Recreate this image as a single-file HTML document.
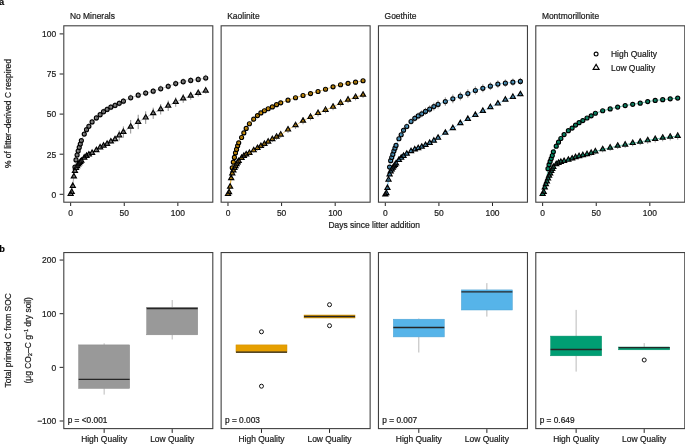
<!DOCTYPE html><html><head><meta charset="utf-8"><style>html,body{margin:0;padding:0;background:#fff;}svg{display:block;will-change:transform;}text{font-family:"Liberation Sans", sans-serif;stroke:#1a1a1a;stroke-width:0.22px;}</style></head><body>
<svg width="685" height="444" viewBox="0 0 685 444">
<rect width="685" height="444" fill="#fff"/>
<text x="-1.0" y="4.6" font-size="9.2" font-weight="bold" fill="#000">a</text>
<text x="-0.7" y="251.6" font-size="9.2" font-weight="bold" fill="#000">b</text>
<text transform="translate(69.9 18.5) scale(0.94 1)" font-size="9" fill="#1a1a1a">No Minerals</text>
<clipPath id="c0"><rect x="63.8" y="25.8" width="149" height="176.4"/></clipPath>
<g clip-path="url(#c0)">
<polyline points="70.65,193.34 71.72,191.25 72.79,185.16 73.87,175.69 74.94,167.03 76.01,159.97 77.08,155 78.15,150.99 79.23,147.46 80.3,144.09 81.37,140.53 84.26,134.11 86.52,129.66 88.87,126.28 92.09,121.92 96.38,117.94 100.13,114.72 103.56,111.71 107.1,109.43 110.85,107.13 115.03,105.38 119.21,103.3 123.39,101.16 130.68,97.74 138.19,95.17 145.69,93.09 153.19,91.16 160.7,88.76 168.2,86.35 175.71,83.62 183.21,81.7 190.71,80.42 198.22,79.45 205.72,78.01" fill="none" stroke="#999999" stroke-width="0.7" stroke-opacity="0.75"/>
<polyline points="70.65,194.14 71.72,192.05 72.79,185.96 73.87,176.49 74.94,171.04 76.01,168.15 77.08,166.23 78.15,164.62 79.23,163.34 80.3,162.06 81.37,160.86 84.26,157.82 86.52,156.01 88.87,154.65 92.09,153.01 96.38,150.25 100.13,147.47 103.56,145.77 107.1,144.05 110.85,141.59 115.03,139.35 119.21,135.47 123.39,132.06 130.68,126.77 138.19,121.96 145.69,117.63 153.19,113.3 160.7,109.29 168.2,105.76 175.71,102.07 183.21,98.54 190.71,95.81 198.22,93.09 205.72,90.68" fill="none" stroke="#999999" stroke-width="0.7" stroke-opacity="0.75"/>
<g fill="#999999" stroke="#000" stroke-width="1.2"><circle cx="74.94" cy="167.03" r="2.0"/><circle cx="76.01" cy="159.97" r="2.0"/><circle cx="77.08" cy="155" r="2.0"/><circle cx="78.15" cy="150.99" r="2.0"/><circle cx="79.23" cy="147.46" r="2.0"/><circle cx="80.3" cy="144.09" r="2.0"/><circle cx="81.37" cy="140.53" r="2.0"/><circle cx="84.26" cy="134.11" r="2.0"/><circle cx="86.52" cy="129.66" r="2.0"/><circle cx="88.87" cy="126.28" r="2.0"/><circle cx="92.09" cy="121.92" r="2.0"/><circle cx="96.38" cy="117.94" r="2.0"/><circle cx="100.13" cy="114.72" r="2.0"/><circle cx="103.56" cy="111.71" r="2.0"/><circle cx="107.1" cy="109.43" r="2.0"/><circle cx="110.85" cy="107.13" r="2.0"/><circle cx="115.03" cy="105.38" r="2.0"/><circle cx="119.21" cy="103.3" r="2.0"/><circle cx="123.39" cy="101.16" r="2.0"/><circle cx="130.68" cy="97.74" r="2.0"/><circle cx="138.19" cy="95.17" r="2.0"/><circle cx="145.69" cy="93.09" r="2.0"/><circle cx="153.19" cy="91.16" r="2.0"/><circle cx="160.7" cy="88.76" r="2.0"/><circle cx="168.2" cy="86.35" r="2.0"/><circle cx="175.71" cy="83.62" r="2.0"/><circle cx="183.21" cy="81.7" r="2.0"/><circle cx="190.71" cy="80.42" r="2.0"/><circle cx="198.22" cy="79.45" r="2.0"/><circle cx="205.72" cy="78.01" r="2.0"/></g>
<g fill="#999999" stroke="#000" stroke-width="1.2"><path d="M70.65 191.14L73.15 195.49L68.15 195.49ZM71.72 189.05L74.22 193.4L69.22 193.4ZM72.79 182.96L75.29 187.31L70.29 187.31ZM73.87 173.49L76.37 177.84L71.37 177.84ZM74.94 168.04L77.44 172.39L72.44 172.39ZM76.01 165.15L78.51 169.5L73.51 169.5ZM77.08 163.23L79.58 167.58L74.58 167.58ZM78.15 161.62L80.65 165.97L75.65 165.97ZM79.23 160.34L81.73 164.69L76.73 164.69ZM80.3 159.06L82.8 163.41L77.8 163.41ZM81.37 157.86L83.87 162.21L78.87 162.21ZM84.26 154.82L86.76 159.17L81.76 159.17ZM86.52 153.01L89.02 157.36L84.02 157.36ZM88.87 151.65L91.37 156L86.37 156ZM92.09 150.01L94.59 154.36L89.59 154.36ZM96.38 147.25L98.88 151.6L93.88 151.6ZM100.13 144.47L102.63 148.82L97.63 148.82ZM103.56 142.77L106.06 147.12L101.06 147.12ZM107.1 141.05L109.6 145.4L104.6 145.4ZM110.85 138.59L113.35 142.94L108.35 142.94ZM115.03 136.35L117.53 140.7L112.53 140.7ZM119.21 132.47L121.71 136.82L116.71 136.82ZM123.39 129.06L125.89 133.41L120.89 133.41ZM130.68 123.77L133.18 128.12L128.18 128.12ZM138.19 118.96L140.69 123.31L135.69 123.31ZM145.69 114.63L148.19 118.98L143.19 118.98ZM153.19 110.3L155.69 114.65L150.69 114.65ZM160.7 106.29L163.2 110.64L158.2 110.64ZM168.2 102.76L170.7 107.11L165.7 107.11ZM175.71 99.07L178.21 103.42L173.21 103.42ZM183.21 95.54L185.71 99.89L180.71 99.89ZM190.71 92.81L193.21 97.16L188.21 97.16ZM198.22 90.09L200.72 94.44L195.72 94.44ZM205.72 87.68L208.22 92.03L203.22 92.03Z"/></g>
<path d="M70.65 192.84V193.84M71.72 190.62V191.88M72.79 184.4V185.92M73.87 174.8V176.58M74.94 166.01V168.05M76.01 158.82V161.12M77.08 153.72V156.28M78.15 149.58V152.4M79.23 145.92V149M80.3 142.42V145.76M81.37 138.73V142.33M84.26 131.98V136.23M86.52 127.28V132.03M88.87 123.64V128.92M92.09 118.92V124.92M96.38 114.93V120.94M100.13 111.7V117.73M103.56 108.69V114.73M107.1 106.4V112.45M110.85 104.1V110.16M115.03 102.34V108.42M119.21 100.26V106.35M123.39 98.11V104.22M130.68 94.67V100.81M138.19 92.09V98.25M145.69 89.99V96.18M153.19 88.06V94.27M160.7 85.64V91.88M168.2 83.22V89.48M175.71 80.48V86.77M183.21 78.54V84.86M190.71 77.24V83.59M198.22 76.27V82.64M205.72 74.81V81.21M70.65 193.14V195.14M71.72 191.02V193.08M72.79 184.9V187.01M73.87 175.41V177.58M74.94 169.93V172.15M76.01 167.01V169.3M77.08 165.06V167.4M78.15 163.42V165.82M79.23 162.11V164.57M80.3 160.8V163.31M81.37 159.58V162.15M84.26 156.46V159.19M86.52 154.59V157.43M88.87 153.17V156.14M92.09 151.44V154.59M96.38 148.56V151.93M100.13 145.68V149.26M103.56 143.9V147.65M107.1 142.07V146.02M110.85 139.23V143.94M115.03 136.44V142.27M119.21 130.42V140.51M123.39 126.42V137.69M130.68 119.97V133.57M138.19 114.76V129.16M145.69 111.33V123.93M153.19 107.7V118.9M160.7 104.09V114.49M168.2 100.56V110.96M175.71 97.37V106.77M183.21 94.24V102.84M190.71 91.91V99.71M198.22 89.69V96.49M205.72 87.68V93.68" stroke="#333" stroke-width="0.55" fill="none"/>
</g>
<rect x="63.8" y="25.8" width="149" height="176.4" fill="none" stroke="#404040" stroke-width="1.1"/>
<line x1="70.65" y1="202.7" x2="70.65" y2="206" stroke="#222" stroke-width="1"/>
<text transform="translate(70.65 215.8) scale(0.94 1)" font-size="9" fill="#1a1a1a" text-anchor="middle">0</text>
<line x1="124.25" y1="202.7" x2="124.25" y2="206" stroke="#222" stroke-width="1"/>
<text transform="translate(124.25 215.8) scale(0.94 1)" font-size="9" fill="#1a1a1a" text-anchor="middle">50</text>
<line x1="177.85" y1="202.7" x2="177.85" y2="206" stroke="#222" stroke-width="1"/>
<text transform="translate(177.85 215.8) scale(0.94 1)" font-size="9" fill="#1a1a1a" text-anchor="middle">100</text>
<text transform="translate(227.23 18.5) scale(0.94 1)" font-size="9" fill="#1a1a1a">Kaolinite</text>
<clipPath id="c1"><rect x="221.13" y="25.8" width="149" height="176.4"/></clipPath>
<g clip-path="url(#c1)">
<polyline points="227.98,193.34 229.05,191.57 230.12,185.96 231.2,177.46 232.27,167.83 233.34,162.22 234.41,157.41 235.48,152.92 236.56,149.39 237.63,145.86 238.7,142.81 241.59,137.48 243.85,132.92 246.2,128.41 249.42,123.77 253.71,119.18 257.46,115.59 260.89,112.89 264.43,110.73 268.18,108.75 272.36,106.97 276.54,104.69 280.72,102.84 288.01,100.15 295.52,97.74 303.02,95.49 310.52,93.57 318.03,91.48 325.53,89.24 333.04,86.83 340.54,84.75 348.04,83.3 355.55,82.18 363.05,80.74" fill="none" stroke="#E69F00" stroke-width="0.7" stroke-opacity="0.75"/>
<polyline points="227.98,194.14 229.05,192.37 230.12,186.76 231.2,178.26 232.27,173.45 233.34,170.56 234.41,168.15 235.48,166.23 236.56,164.3 237.63,162.54 238.7,161.13 241.59,158.02 243.85,156.01 246.2,154.55 249.42,153.02 253.71,150.41 257.46,148.14 260.89,146.09 264.43,144 268.18,141.73 272.36,139.24 276.54,136.86 280.72,134.68 288.01,129.66 295.52,125.33 303.02,120.83 310.52,116.99 318.03,113.14 325.53,109.93 333.04,106.88 340.54,103.03 348.04,99.82 355.55,97.1 363.05,94.85" fill="none" stroke="#E69F00" stroke-width="0.7" stroke-opacity="0.75"/>
<g fill="#E69F00" stroke="#000" stroke-width="1.2"><circle cx="232.27" cy="167.83" r="2.0"/><circle cx="233.34" cy="162.22" r="2.0"/><circle cx="234.41" cy="157.41" r="2.0"/><circle cx="235.48" cy="152.92" r="2.0"/><circle cx="236.56" cy="149.39" r="2.0"/><circle cx="237.63" cy="145.86" r="2.0"/><circle cx="238.7" cy="142.81" r="2.0"/><circle cx="241.59" cy="137.48" r="2.0"/><circle cx="243.85" cy="132.92" r="2.0"/><circle cx="246.2" cy="128.41" r="2.0"/><circle cx="249.42" cy="123.77" r="2.0"/><circle cx="253.71" cy="119.18" r="2.0"/><circle cx="257.46" cy="115.59" r="2.0"/><circle cx="260.89" cy="112.89" r="2.0"/><circle cx="264.43" cy="110.73" r="2.0"/><circle cx="268.18" cy="108.75" r="2.0"/><circle cx="272.36" cy="106.97" r="2.0"/><circle cx="276.54" cy="104.69" r="2.0"/><circle cx="280.72" cy="102.84" r="2.0"/><circle cx="288.01" cy="100.15" r="2.0"/><circle cx="295.52" cy="97.74" r="2.0"/><circle cx="303.02" cy="95.49" r="2.0"/><circle cx="310.52" cy="93.57" r="2.0"/><circle cx="318.03" cy="91.48" r="2.0"/><circle cx="325.53" cy="89.24" r="2.0"/><circle cx="333.04" cy="86.83" r="2.0"/><circle cx="340.54" cy="84.75" r="2.0"/><circle cx="348.04" cy="83.3" r="2.0"/><circle cx="355.55" cy="82.18" r="2.0"/><circle cx="363.05" cy="80.74" r="2.0"/></g>
<g fill="#E69F00" stroke="#000" stroke-width="1.2"><path d="M227.98 191.14L230.48 195.49L225.48 195.49ZM229.05 189.37L231.55 193.72L226.55 193.72ZM230.12 183.76L232.62 188.11L227.62 188.11ZM231.2 175.26L233.7 179.61L228.7 179.61ZM232.27 170.45L234.77 174.8L229.77 174.8ZM233.34 167.56L235.84 171.91L230.84 171.91ZM234.41 165.15L236.91 169.5L231.91 169.5ZM235.48 163.23L237.98 167.58L232.98 167.58ZM236.56 161.3L239.06 165.65L234.06 165.65ZM237.63 159.54L240.13 163.89L235.13 163.89ZM238.7 158.13L241.2 162.48L236.2 162.48ZM241.59 155.02L244.09 159.37L239.09 159.37ZM243.85 153.01L246.35 157.36L241.35 157.36ZM246.2 151.55L248.7 155.9L243.7 155.9ZM249.42 150.02L251.92 154.37L246.92 154.37ZM253.71 147.41L256.21 151.76L251.21 151.76ZM257.46 145.14L259.96 149.49L254.96 149.49ZM260.89 143.09L263.39 147.44L258.39 147.44ZM264.43 141L266.93 145.35L261.93 145.35ZM268.18 138.73L270.68 143.08L265.68 143.08ZM272.36 136.24L274.86 140.59L269.86 140.59ZM276.54 133.86L279.04 138.21L274.04 138.21ZM280.72 131.68L283.22 136.03L278.22 136.03ZM288.01 126.66L290.51 131.01L285.51 131.01ZM295.52 122.33L298.02 126.68L293.02 126.68ZM303.02 117.83L305.52 122.18L300.52 122.18ZM310.52 113.99L313.02 118.34L308.02 118.34ZM318.03 110.14L320.53 114.49L315.53 114.49ZM325.53 106.93L328.03 111.28L323.03 111.28ZM333.04 103.88L335.54 108.23L330.54 108.23ZM340.54 100.03L343.04 104.38L338.04 104.38ZM348.04 96.82L350.54 101.17L345.54 101.17ZM355.55 94.1L358.05 98.45L353.05 98.45ZM363.05 91.85L365.55 96.2L360.55 96.2Z"/></g>
<path d="M227.98 192.84V193.84M229.05 191.07V192.08M230.12 185.44V186.48M231.2 176.93V177.98M232.27 167.3V168.37M233.34 161.68V162.76M234.41 156.86V157.96M235.48 152.36V153.47M236.56 148.82V149.95M237.63 145.29V146.43M238.7 142.23V143.39M241.59 136.88V138.08M243.85 132.3V133.54M246.2 127.77V129.04M249.42 123.11V124.43M253.71 118.49V119.87M257.46 114.87V116.31M260.89 112.15V113.63M264.43 109.96V111.5M268.18 107.95V109.55M272.36 106.14V107.8M276.54 103.83V105.55M280.72 101.95V103.73M288.01 99.2V101.09M295.52 96.74V98.74M303.02 94.44V96.55M310.52 92.46V94.68M318.03 90.32V92.65M325.53 88.02V90.46M333.04 85.55V88.11M340.54 83.41V86.08M348.04 81.91V84.69M355.55 80.74V83.62M363.05 79.24V82.24M227.98 193.14V195.14M229.05 191.32V193.42M230.12 185.66V187.86M231.2 177.11V179.41M232.27 172.25V174.65M233.34 169.31V171.81M234.41 166.85V169.45M235.48 164.88V167.58M236.56 162.9V165.7M237.63 161.09V163.99M238.7 159.63V162.63M241.59 156.39V159.66M243.85 154.27V157.75M246.2 152.7V156.4M249.42 151.02V155.02M253.71 148.21V152.61M257.46 145.77V150.52M260.89 143.56V148.61M264.43 141.36V146.63M268.18 138.98V144.48M272.36 136.36V142.12M276.54 133.85V139.87M280.72 131.54V137.82M288.01 126.29V133.02M295.52 121.84V128.81M303.02 117.38V124.29M310.52 113.56V120.41M318.03 109.74V116.53M325.53 106.57V113.29M333.04 103.55V110.21M340.54 99.73V106.33M348.04 96.56V103.09M355.55 93.86V100.33M363.05 91.65V98.05" stroke="#333" stroke-width="0.55" fill="none"/>
</g>
<rect x="221.13" y="25.8" width="149" height="176.4" fill="none" stroke="#404040" stroke-width="1.1"/>
<line x1="227.98" y1="202.7" x2="227.98" y2="206" stroke="#222" stroke-width="1"/>
<text transform="translate(227.98 215.8) scale(0.94 1)" font-size="9" fill="#1a1a1a" text-anchor="middle">0</text>
<line x1="281.58" y1="202.7" x2="281.58" y2="206" stroke="#222" stroke-width="1"/>
<text transform="translate(281.58 215.8) scale(0.94 1)" font-size="9" fill="#1a1a1a" text-anchor="middle">50</text>
<line x1="335.18" y1="202.7" x2="335.18" y2="206" stroke="#222" stroke-width="1"/>
<text transform="translate(335.18 215.8) scale(0.94 1)" font-size="9" fill="#1a1a1a" text-anchor="middle">100</text>
<text transform="translate(384.56 18.5) scale(0.94 1)" font-size="9" fill="#1a1a1a">Goethite</text>
<clipPath id="c2"><rect x="378.46" y="25.8" width="149" height="176.4"/></clipPath>
<g clip-path="url(#c2)">
<polyline points="385.31,193.82 386.38,192.38 387.45,187.24 388.53,178.9 389.6,167.03 390.67,160.72 391.74,157.49 392.81,154.46 393.89,150.98 394.96,148.15 396.03,145.47 398.92,138.73 401.18,134.74 403.53,130.32 406.75,126.48 411.04,121.49 414.79,118.32 418.22,115.93 421.76,113.78 425.51,111.39 429.69,109.14 433.87,106.6 438.05,104.43 445.34,101.59 452.85,98.86 460.35,96.14 467.85,93.57 475.36,90.52 482.86,88.28 490.37,86.19 497.87,84.11 505.37,83.14 512.88,82.18 520.38,81.38" fill="none" stroke="#56B4E9" stroke-width="0.7" stroke-opacity="0.75"/>
<polyline points="385.31,194.62 386.38,193.18 387.45,188.04 388.53,179.7 389.6,174.57 390.67,171.52 391.74,169.44 392.81,167.83 393.89,166.39 394.96,164.95 396.03,163.55 398.92,160.03 401.18,157.92 403.53,156.04 406.75,153.84 411.04,151.28 414.79,149.48 418.22,148.31 421.76,146.84 425.51,145.08 429.69,142.99 433.87,140.78 438.05,137.91 445.34,132.86 452.85,128.21 460.35,123.24 467.85,119.07 475.36,115.06 482.86,111.05 490.37,107.2 497.87,103.67 505.37,99.82 512.88,96.94 520.38,94.37" fill="none" stroke="#56B4E9" stroke-width="0.7" stroke-opacity="0.75"/>
<g fill="#56B4E9" stroke="#000" stroke-width="1.2"><circle cx="389.6" cy="167.03" r="2.0"/><circle cx="390.67" cy="160.72" r="2.0"/><circle cx="391.74" cy="157.49" r="2.0"/><circle cx="392.81" cy="154.46" r="2.0"/><circle cx="393.89" cy="150.98" r="2.0"/><circle cx="394.96" cy="148.15" r="2.0"/><circle cx="396.03" cy="145.47" r="2.0"/><circle cx="398.92" cy="138.73" r="2.0"/><circle cx="401.18" cy="134.74" r="2.0"/><circle cx="403.53" cy="130.32" r="2.0"/><circle cx="406.75" cy="126.48" r="2.0"/><circle cx="411.04" cy="121.49" r="2.0"/><circle cx="414.79" cy="118.32" r="2.0"/><circle cx="418.22" cy="115.93" r="2.0"/><circle cx="421.76" cy="113.78" r="2.0"/><circle cx="425.51" cy="111.39" r="2.0"/><circle cx="429.69" cy="109.14" r="2.0"/><circle cx="433.87" cy="106.6" r="2.0"/><circle cx="438.05" cy="104.43" r="2.0"/><circle cx="445.34" cy="101.59" r="2.0"/><circle cx="452.85" cy="98.86" r="2.0"/><circle cx="460.35" cy="96.14" r="2.0"/><circle cx="467.85" cy="93.57" r="2.0"/><circle cx="475.36" cy="90.52" r="2.0"/><circle cx="482.86" cy="88.28" r="2.0"/><circle cx="490.37" cy="86.19" r="2.0"/><circle cx="497.87" cy="84.11" r="2.0"/><circle cx="505.37" cy="83.14" r="2.0"/><circle cx="512.88" cy="82.18" r="2.0"/><circle cx="520.38" cy="81.38" r="2.0"/></g>
<g fill="#56B4E9" stroke="#000" stroke-width="1.2"><path d="M385.31 191.62L387.81 195.97L382.81 195.97ZM386.38 190.18L388.88 194.53L383.88 194.53ZM387.45 185.04L389.95 189.39L384.95 189.39ZM388.53 176.7L391.03 181.05L386.03 181.05ZM389.6 171.57L392.1 175.92L387.1 175.92ZM390.67 168.52L393.17 172.87L388.17 172.87ZM391.74 166.44L394.24 170.79L389.24 170.79ZM392.81 164.83L395.31 169.18L390.31 169.18ZM393.89 163.39L396.39 167.74L391.39 167.74ZM394.96 161.95L397.46 166.3L392.46 166.3ZM396.03 160.55L398.53 164.9L393.53 164.9ZM398.92 157.03L401.42 161.38L396.42 161.38ZM401.18 154.92L403.68 159.27L398.68 159.27ZM403.53 153.04L406.03 157.39L401.03 157.39ZM406.75 150.84L409.25 155.19L404.25 155.19ZM411.04 148.28L413.54 152.63L408.54 152.63ZM414.79 146.48L417.29 150.83L412.29 150.83ZM418.22 145.31L420.72 149.66L415.72 149.66ZM421.76 143.84L424.26 148.19L419.26 148.19ZM425.51 142.08L428.01 146.43L423.01 146.43ZM429.69 139.99L432.19 144.34L427.19 144.34ZM433.87 137.78L436.37 142.13L431.37 142.13ZM438.05 134.91L440.55 139.26L435.55 139.26ZM445.34 129.86L447.84 134.21L442.84 134.21ZM452.85 125.21L455.35 129.56L450.35 129.56ZM460.35 120.24L462.85 124.59L457.85 124.59ZM467.85 116.07L470.35 120.42L465.35 120.42ZM475.36 112.06L477.86 116.41L472.86 116.41ZM482.86 108.05L485.36 112.4L480.36 112.4ZM490.37 104.2L492.87 108.55L487.87 108.55ZM497.87 100.67L500.37 105.02L495.37 105.02ZM505.37 96.82L507.87 101.17L502.87 101.17ZM512.88 93.94L515.38 98.29L510.38 98.29ZM520.38 91.37L522.88 95.72L517.88 95.72Z"/></g>
<path d="M385.31 192.82V194.82M386.38 191.28V193.48M387.45 186.04V188.44M388.53 177.6V180.2M389.6 165.63V168.43M390.67 159.22V162.22M391.74 155.89V159.09M392.81 152.76V156.16M393.89 149.18V152.78M394.96 146.25V150.05M396.03 143.47V147.47M398.92 136.46V141M401.18 132.26V137.22M403.53 127.62V133.02M406.75 123.48V129.48M411.04 118.35V124.63M414.79 115.06V121.58M418.22 112.56V119.31M421.76 110.29V117.27M425.51 107.78V115M429.69 105.39V112.89M433.87 102.72V110.49M438.05 100.41V108.45M445.34 97.33V105.85M452.85 94.5V103.22M460.35 91.87V100.4M467.85 89.4V97.74M475.36 86.45V94.59M482.86 84.3V92.25M490.37 82.31V90.07M497.87 80.32V87.89M505.37 79.45V86.83M512.88 78.58V85.78M520.38 77.88V84.88M385.31 194.12V195.12M386.38 192.66V193.69M387.45 187.52V188.57M388.53 179.17V180.24M389.6 174.02V175.12M390.67 170.96V172.08M391.74 168.86V170.01M392.81 167.25V168.42M393.89 165.79V166.98M394.96 164.34V165.55M396.03 162.93V164.17M398.92 159.38V160.68M401.18 157.24V158.6M403.53 155.34V156.74M406.75 153.1V154.58M411.04 150.49V152.06M414.79 148.65V150.31M418.22 147.44V149.17M421.76 145.93V147.74M425.51 144.13V146.02M429.69 142V143.98M433.87 139.75V141.82M438.05 136.82V139M445.34 131.7V134.03M452.85 126.96V129.46M460.35 121.91V124.57M467.85 117.65V120.49M475.36 113.56V116.56M482.86 109.47V112.63M490.37 105.53V108.87M497.87 101.92V105.42M505.37 97.99V101.66M512.88 95.02V98.85M520.38 92.37V96.37" stroke="#333" stroke-width="0.55" fill="none"/>
</g>
<rect x="378.46" y="25.8" width="149" height="176.4" fill="none" stroke="#404040" stroke-width="1.1"/>
<line x1="385.31" y1="202.7" x2="385.31" y2="206" stroke="#222" stroke-width="1"/>
<text transform="translate(385.31 215.8) scale(0.94 1)" font-size="9" fill="#1a1a1a" text-anchor="middle">0</text>
<line x1="438.91" y1="202.7" x2="438.91" y2="206" stroke="#222" stroke-width="1"/>
<text transform="translate(438.91 215.8) scale(0.94 1)" font-size="9" fill="#1a1a1a" text-anchor="middle">50</text>
<line x1="492.51" y1="202.7" x2="492.51" y2="206" stroke="#222" stroke-width="1"/>
<text transform="translate(492.51 215.8) scale(0.94 1)" font-size="9" fill="#1a1a1a" text-anchor="middle">100</text>
<text transform="translate(541.89 18.5) scale(0.94 1)" font-size="9" fill="#1a1a1a">Montmorillonite</text>
<clipPath id="c3"><rect x="535.79" y="25.8" width="149" height="176.4"/></clipPath>
<g clip-path="url(#c3)">
<polyline points="542.64,193.34 543.71,191.25 544.78,186.76 545.86,183.39 546.93,176.66 548,168.64 549.07,164.63 550.14,161.42 551.22,158.53 552.29,155.48 553.36,151.79 556.25,146.18 558.51,142.17 560.86,138.49 564.08,134.58 568.37,130.72 572.12,128.06 575.55,125.1 579.09,122.64 582.84,120.6 587.02,118.01 591.2,115.8 595.38,113.25 602.67,110.73 610.18,108.97 617.68,107.04 625.18,105.6 632.69,104.32 640.19,103.19 647.7,101.59 655.2,100.47 662.7,99.66 670.21,98.86 677.71,98.06" fill="none" stroke="#009E73" stroke-width="0.7" stroke-opacity="0.75"/>
<polyline points="542.64,194.14 543.71,192.05 544.78,187.56 545.86,184.19 546.93,181.47 548,178.58 549.07,175.85 550.14,173.45 551.22,171.04 552.29,168.95 553.36,167.03 556.25,164.3 558.51,163.02 560.86,162.06 564.08,161.1 568.37,159.91 572.12,158.6 575.55,157.31 579.09,156.2 582.84,155.3 587.02,154.24 591.2,153.04 595.38,151.44 602.67,149.39 610.18,147.78 617.68,145.86 625.18,144.73 632.69,143.13 640.19,141.85 647.7,140.4 655.2,139.12 662.7,137.84 670.21,136.87 677.71,136.07" fill="none" stroke="#009E73" stroke-width="0.7" stroke-opacity="0.75"/>
<g fill="#009E73" stroke="#000" stroke-width="1.2"><circle cx="548" cy="168.64" r="2.0"/><circle cx="549.07" cy="164.63" r="2.0"/><circle cx="550.14" cy="161.42" r="2.0"/><circle cx="551.22" cy="158.53" r="2.0"/><circle cx="552.29" cy="155.48" r="2.0"/><circle cx="553.36" cy="151.79" r="2.0"/><circle cx="556.25" cy="146.18" r="2.0"/><circle cx="558.51" cy="142.17" r="2.0"/><circle cx="560.86" cy="138.49" r="2.0"/><circle cx="564.08" cy="134.58" r="2.0"/><circle cx="568.37" cy="130.72" r="2.0"/><circle cx="572.12" cy="128.06" r="2.0"/><circle cx="575.55" cy="125.1" r="2.0"/><circle cx="579.09" cy="122.64" r="2.0"/><circle cx="582.84" cy="120.6" r="2.0"/><circle cx="587.02" cy="118.01" r="2.0"/><circle cx="591.2" cy="115.8" r="2.0"/><circle cx="595.38" cy="113.25" r="2.0"/><circle cx="602.67" cy="110.73" r="2.0"/><circle cx="610.18" cy="108.97" r="2.0"/><circle cx="617.68" cy="107.04" r="2.0"/><circle cx="625.18" cy="105.6" r="2.0"/><circle cx="632.69" cy="104.32" r="2.0"/><circle cx="640.19" cy="103.19" r="2.0"/><circle cx="647.7" cy="101.59" r="2.0"/><circle cx="655.2" cy="100.47" r="2.0"/><circle cx="662.7" cy="99.66" r="2.0"/><circle cx="670.21" cy="98.86" r="2.0"/><circle cx="677.71" cy="98.06" r="2.0"/></g>
<g fill="#009E73" stroke="#000" stroke-width="1.2"><path d="M542.64 191.14L545.14 195.49L540.14 195.49ZM543.71 189.05L546.21 193.4L541.21 193.4ZM544.78 184.56L547.28 188.91L542.28 188.91ZM545.86 181.19L548.36 185.54L543.36 185.54ZM546.93 178.47L549.43 182.82L544.43 182.82ZM548 175.58L550.5 179.93L545.5 179.93ZM549.07 172.85L551.57 177.2L546.57 177.2ZM550.14 170.45L552.64 174.8L547.64 174.8ZM551.22 168.04L553.72 172.39L548.72 172.39ZM552.29 165.95L554.79 170.3L549.79 170.3ZM553.36 164.03L555.86 168.38L550.86 168.38ZM556.25 161.3L558.75 165.65L553.75 165.65ZM558.51 160.02L561.01 164.37L556.01 164.37ZM560.86 159.06L563.36 163.41L558.36 163.41ZM564.08 158.1L566.58 162.45L561.58 162.45ZM568.37 156.91L570.87 161.26L565.87 161.26ZM572.12 155.6L574.62 159.95L569.62 159.95ZM575.55 154.31L578.05 158.66L573.05 158.66ZM579.09 153.2L581.59 157.55L576.59 157.55ZM582.84 152.3L585.34 156.65L580.34 156.65ZM587.02 151.24L589.52 155.59L584.52 155.59ZM591.2 150.04L593.7 154.39L588.7 154.39ZM595.38 148.44L597.88 152.79L592.88 152.79ZM602.67 146.39L605.17 150.74L600.17 150.74ZM610.18 144.78L612.68 149.13L607.68 149.13ZM617.68 142.86L620.18 147.21L615.18 147.21ZM625.18 141.73L627.68 146.08L622.68 146.08ZM632.69 140.13L635.19 144.48L630.19 144.48ZM640.19 138.85L642.69 143.2L637.69 143.2ZM647.7 137.4L650.2 141.75L645.2 141.75ZM655.2 136.12L657.7 140.47L652.7 140.47ZM662.7 134.84L665.2 139.19L660.2 139.19ZM670.21 133.87L672.71 138.22L667.71 138.22ZM677.71 133.07L680.21 137.42L675.21 137.42Z"/></g>
<path d="M542.64 192.84V193.84M543.71 190.74V191.76M544.78 186.25V187.28M545.86 182.87V183.92M546.93 176.12V177.19M548 168.1V169.18M549.07 164.08V165.17M550.14 160.86V161.97M551.22 157.97V159.09M552.29 154.91V156.05M553.36 151.21V152.37M556.25 145.58V146.78M558.51 141.55V142.79M560.86 137.86V139.13M564.08 133.92V135.24M568.37 130.03V131.41M572.12 127.34V128.78M575.55 124.36V125.85M579.09 121.87V123.41M582.84 119.8V121.4M587.02 117.18V118.84M591.2 114.94V116.66M595.38 112.36V114.14M602.67 109.79V111.68M610.18 107.97V109.97M617.68 105.99V108.1M625.18 104.49V106.71M632.69 103.15V105.48M640.19 101.97V104.42M647.7 100.31V102.87M655.2 99.13V101.8M662.7 98.28V101.05M670.21 97.42V100.31M677.71 96.56V99.56M542.64 193.14V195.14M543.71 191.01V193.1M544.78 186.47V188.65M545.86 183.06V185.33M546.93 180.29V182.65M548 177.35V179.8M549.07 174.58V177.12M550.14 172.13V174.76M551.22 169.68V172.4M552.29 167.55V170.36M553.36 165.58V168.48M556.25 162.73V165.87M558.51 161.35V164.69M560.86 160.29V163.82M564.08 159.2V163M568.37 157.83V161.99M572.12 156.36V160.84M575.55 154.93V159.69M579.09 153.67V158.73M582.84 152.61V157.98M587.02 151.43V157.06M591.2 150.19V155.89M595.38 148.55V154.32M602.67 146.44V152.33M610.18 144.77V150.8M617.68 142.78V148.94M625.18 141.59V147.88M632.69 139.92V146.34M640.19 138.57V145.12M647.7 137.06V143.74M655.2 135.72V142.53M662.7 134.37V141.31M670.21 133.34V140.41M677.71 132.47V139.67" stroke="#333" stroke-width="0.55" fill="none"/>
</g>
<rect x="535.79" y="25.8" width="149" height="176.4" fill="none" stroke="#404040" stroke-width="1.1"/>
<line x1="542.64" y1="202.7" x2="542.64" y2="206" stroke="#222" stroke-width="1"/>
<text transform="translate(542.64 215.8) scale(0.94 1)" font-size="9" fill="#1a1a1a" text-anchor="middle">0</text>
<line x1="596.24" y1="202.7" x2="596.24" y2="206" stroke="#222" stroke-width="1"/>
<text transform="translate(596.24 215.8) scale(0.94 1)" font-size="9" fill="#1a1a1a" text-anchor="middle">50</text>
<line x1="649.84" y1="202.7" x2="649.84" y2="206" stroke="#222" stroke-width="1"/>
<text transform="translate(649.84 215.8) scale(0.94 1)" font-size="9" fill="#1a1a1a" text-anchor="middle">100</text>
<line x1="59.6" y1="194.3" x2="63.3" y2="194.3" stroke="#222" stroke-width="1"/>
<text transform="translate(56.2 197.6) scale(0.94 1)" font-size="9" fill="#1a1a1a" text-anchor="end">0</text>
<line x1="59.6" y1="154.2" x2="63.3" y2="154.2" stroke="#222" stroke-width="1"/>
<text transform="translate(56.2 157.5) scale(0.94 1)" font-size="9" fill="#1a1a1a" text-anchor="end">25</text>
<line x1="59.6" y1="114.1" x2="63.3" y2="114.1" stroke="#222" stroke-width="1"/>
<text transform="translate(56.2 117.4) scale(0.94 1)" font-size="9" fill="#1a1a1a" text-anchor="end">50</text>
<line x1="59.6" y1="74" x2="63.3" y2="74" stroke="#222" stroke-width="1"/>
<text transform="translate(56.2 77.3) scale(0.94 1)" font-size="9" fill="#1a1a1a" text-anchor="end">75</text>
<line x1="59.6" y1="33.9" x2="63.3" y2="33.9" stroke="#222" stroke-width="1"/>
<text transform="translate(56.2 37.2) scale(0.94 1)" font-size="9" fill="#1a1a1a" text-anchor="end">100</text>
<text transform="translate(374.2 227.6) scale(0.94 1)" font-size="9" fill="#1a1a1a" text-anchor="middle">Days since litter addition</text>
<text transform="translate(10.8 113.6) rotate(-90) scale(0.94 1)" font-size="9" fill="#1a1a1a" text-anchor="middle">% of litter–derived C respired</text>
<circle cx="596.1" cy="54.1" r="1.95" fill="#fff" stroke="#000" stroke-width="1.1"/>
<path d="M596.1 64.4L599.1 69.4L593.1 69.4Z" fill="#fff" stroke="#000" stroke-width="1.1"/>
<text transform="translate(611 56.9) scale(0.94 1)" font-size="9" fill="#1a1a1a">High Quality</text>
<text transform="translate(611 70.8) scale(0.94 1)" font-size="9" fill="#1a1a1a">Low Quality</text>
<line x1="104.15" y1="343.3" x2="104.15" y2="344.9" stroke="#9c9c9c" stroke-width="0.7"/>
<line x1="104.15" y1="388.4" x2="104.15" y2="394.6" stroke="#9c9c9c" stroke-width="0.7"/>
<rect x="78.65" y="344.9" width="51" height="43.5" fill="#999999" stroke="#888888" stroke-width="0.5"/>
<line x1="78.65" y1="379.3" x2="129.65" y2="379.3" stroke="#262626" stroke-width="1.3"/>
<line x1="104.15" y1="429.1" x2="104.15" y2="432.9" stroke="#222" stroke-width="1"/>
<text transform="translate(104.15 442.2) scale(0.94 1)" font-size="9" fill="#1a1a1a" text-anchor="middle">High Quality</text>
<line x1="172.2" y1="300" x2="172.2" y2="307.3" stroke="#9c9c9c" stroke-width="0.7"/>
<line x1="172.2" y1="334.8" x2="172.2" y2="339.5" stroke="#9c9c9c" stroke-width="0.7"/>
<rect x="146.7" y="307.3" width="51" height="27.5" fill="#999999" stroke="#888888" stroke-width="0.5"/>
<line x1="146.7" y1="308.5" x2="197.7" y2="308.5" stroke="#262626" stroke-width="1.3"/>
<line x1="172.2" y1="429.1" x2="172.2" y2="432.9" stroke="#222" stroke-width="1"/>
<text transform="translate(172.2 442.2) scale(0.94 1)" font-size="9" fill="#1a1a1a" text-anchor="middle">Low Quality</text>
<rect x="63.8" y="252.55" width="149" height="176.05" fill="none" stroke="#404040" stroke-width="1.1"/>
<text transform="translate(67.7 423.1)" font-size="8.3" fill="#1a1a1a">p = &lt;0.001</text>
<rect x="235.98" y="344.9" width="51" height="7.7" fill="#E69F00" stroke="#cf8f00" stroke-width="0.5"/>
<line x1="235.98" y1="352.2" x2="286.98" y2="352.2" stroke="#262626" stroke-width="1.3"/>
<circle cx="261.48" cy="331.8" r="2.0" fill="none" stroke="#111" stroke-width="1.0"/>
<circle cx="261.48" cy="386.2" r="2.0" fill="none" stroke="#111" stroke-width="1.0"/>
<line x1="261.48" y1="429.1" x2="261.48" y2="432.9" stroke="#222" stroke-width="1"/>
<text transform="translate(261.48 442.2) scale(0.94 1)" font-size="9" fill="#1a1a1a" text-anchor="middle">High Quality</text>
<rect x="304.03" y="315" width="51" height="3" fill="#E69F00" stroke="#cf8f00" stroke-width="0.5"/>
<line x1="304.03" y1="316.5" x2="355.03" y2="316.5" stroke="#262626" stroke-width="1.3"/>
<circle cx="329.53" cy="304.7" r="2.0" fill="none" stroke="#111" stroke-width="1.0"/>
<circle cx="329.53" cy="325.7" r="2.0" fill="none" stroke="#111" stroke-width="1.0"/>
<line x1="329.53" y1="429.1" x2="329.53" y2="432.9" stroke="#222" stroke-width="1"/>
<text transform="translate(329.53 442.2) scale(0.94 1)" font-size="9" fill="#1a1a1a" text-anchor="middle">Low Quality</text>
<rect x="221.13" y="252.55" width="149" height="176.05" fill="none" stroke="#404040" stroke-width="1.1"/>
<text transform="translate(225.03 423.1)" font-size="8.3" fill="#1a1a1a">p = 0.003</text>
<line x1="418.81" y1="318.5" x2="418.81" y2="319.2" stroke="#9c9c9c" stroke-width="0.7"/>
<line x1="418.81" y1="336.9" x2="418.81" y2="352.5" stroke="#9c9c9c" stroke-width="0.7"/>
<rect x="393.31" y="319.2" width="51" height="17.7" fill="#56B4E9" stroke="#4da2d2" stroke-width="0.5"/>
<line x1="393.31" y1="327.5" x2="444.31" y2="327.5" stroke="#262626" stroke-width="1.3"/>
<line x1="418.81" y1="429.1" x2="418.81" y2="432.9" stroke="#222" stroke-width="1"/>
<text transform="translate(418.81 442.2) scale(0.94 1)" font-size="9" fill="#1a1a1a" text-anchor="middle">High Quality</text>
<line x1="486.86" y1="283.1" x2="486.86" y2="289.9" stroke="#9c9c9c" stroke-width="0.7"/>
<line x1="486.86" y1="310" x2="486.86" y2="316.6" stroke="#9c9c9c" stroke-width="0.7"/>
<rect x="461.36" y="289.9" width="51" height="20.1" fill="#56B4E9" stroke="#4da2d2" stroke-width="0.5"/>
<line x1="461.36" y1="291.9" x2="512.36" y2="291.9" stroke="#262626" stroke-width="1.3"/>
<line x1="486.86" y1="429.1" x2="486.86" y2="432.9" stroke="#222" stroke-width="1"/>
<text transform="translate(486.86 442.2) scale(0.94 1)" font-size="9" fill="#1a1a1a" text-anchor="middle">Low Quality</text>
<rect x="378.46" y="252.55" width="149" height="176.05" fill="none" stroke="#404040" stroke-width="1.1"/>
<text transform="translate(382.36 423.1)" font-size="8.3" fill="#1a1a1a">p = 0.007</text>
<line x1="576.14" y1="309.9" x2="576.14" y2="336.1" stroke="#9c9c9c" stroke-width="0.7"/>
<line x1="576.14" y1="355.8" x2="576.14" y2="371.6" stroke="#9c9c9c" stroke-width="0.7"/>
<rect x="550.64" y="336.1" width="51" height="19.7" fill="#009E73" stroke="#008e67" stroke-width="0.5"/>
<line x1="550.64" y1="349.5" x2="601.64" y2="349.5" stroke="#262626" stroke-width="1.3"/>
<line x1="576.14" y1="429.1" x2="576.14" y2="432.9" stroke="#222" stroke-width="1"/>
<text transform="translate(576.14 442.2) scale(0.94 1)" font-size="9" fill="#1a1a1a" text-anchor="middle">High Quality</text>
<line x1="644.19" y1="343.1" x2="644.19" y2="347" stroke="#9c9c9c" stroke-width="0.7"/>
<rect x="618.69" y="347" width="51" height="2.8" fill="#009E73" stroke="#008e67" stroke-width="0.5"/>
<line x1="618.69" y1="347.55" x2="669.69" y2="347.55" stroke="#262626" stroke-width="1.3"/>
<circle cx="644.19" cy="360" r="2.0" fill="none" stroke="#111" stroke-width="1.0"/>
<line x1="644.19" y1="429.1" x2="644.19" y2="432.9" stroke="#222" stroke-width="1"/>
<text transform="translate(644.19 442.2) scale(0.94 1)" font-size="9" fill="#1a1a1a" text-anchor="middle">Low Quality</text>
<rect x="535.79" y="252.55" width="149" height="176.05" fill="none" stroke="#404040" stroke-width="1.1"/>
<text transform="translate(539.69 423.1)" font-size="8.3" fill="#1a1a1a">p = 0.649</text>
<line x1="59.6" y1="260.05" x2="63.3" y2="260.05" stroke="#222" stroke-width="1"/>
<text transform="translate(56.2 263.35) scale(0.94 1)" font-size="9" fill="#1a1a1a" text-anchor="end">200</text>
<line x1="59.6" y1="313.7" x2="63.3" y2="313.7" stroke="#222" stroke-width="1"/>
<text transform="translate(56.2 317) scale(0.94 1)" font-size="9" fill="#1a1a1a" text-anchor="end">100</text>
<line x1="59.6" y1="367.35" x2="63.3" y2="367.35" stroke="#222" stroke-width="1"/>
<text transform="translate(56.2 370.65) scale(0.94 1)" font-size="9" fill="#1a1a1a" text-anchor="end">0</text>
<line x1="59.6" y1="421" x2="63.3" y2="421" stroke="#222" stroke-width="1"/>
<text transform="translate(56.2 424.3) scale(0.94 1)" font-size="9" fill="#1a1a1a" text-anchor="end">−100</text>
<text transform="translate(10.5 340.3) rotate(-90) scale(0.94 1)" font-size="9" fill="#1a1a1a" text-anchor="middle">Total primed C from SOC</text>
<text transform="translate(30.8 340.3) rotate(-90) scale(0.94 1)" font-size="9" fill="#1a1a1a" text-anchor="middle">(μg CO<tspan font-size="6.1" dy="1.6">2</tspan><tspan dy="-1.6">–C g</tspan><tspan font-size="5.7" dy="-2.9">−1</tspan><tspan dy="2.9"> dry soil)</tspan></text>
</svg></body></html>
